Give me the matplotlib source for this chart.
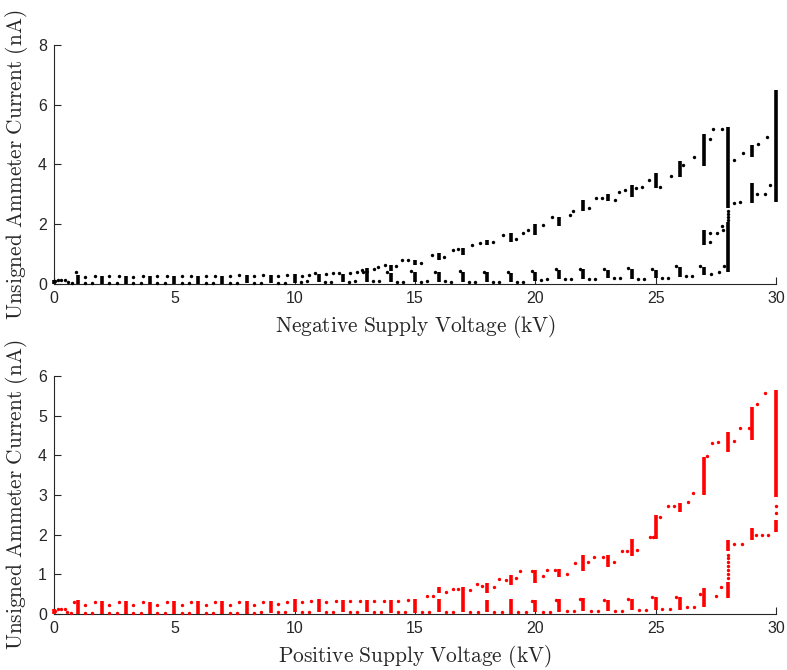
import numpy as np
from matplotlib import pyplot as plt

# ---- data ----
# dense vertical runs of samples held at one voltage: (voltage, low, high)
neg_bar_v = [0, 1, 2, 3, 4, 5, 6, 7, 8, 9, 10, 11, 12, 13, 14, 15, 16, 17, 18, 19, 20, 21, 22, 23, 24, 25, 26, 27,
             13, 14, 15, 16, 17, 18, 19, 20, 21, 22, 23, 24, 25, 26, 27, 27, 28, 28, 29, 29, 30]
neg_bar_lo = [0.0, 0.0, 0.0, 0.0, 0.0, 0.0, 0.0, 0.0, 0.02, 0.02, 0.04, 0.06, 0.06, 0.08, 0.06, 0.08, 0.08, 0.08,
              0.06, 0.06, 0.11, 0.16, 0.16, 0.19, 0.16, 0.19, 0.25, 0.30,
              0.38, 0.45, 0.63, 0.80, 0.97, 1.30, 1.42, 1.64, 1.95, 2.45, 2.79, 2.92, 3.20, 3.59, 3.95,
              1.30, 2.54, 0.41, 4.26, 2.70, 2.74]
neg_bar_hi = [0.15, 0.31, 0.28, 0.28, 0.27, 0.28, 0.27, 0.28, 0.30, 0.30, 0.33, 0.35, 0.35, 0.45, 0.38, 0.42, 0.40,
              0.42, 0.40, 0.38, 0.41, 0.47, 0.49, 0.47, 0.52, 0.47, 0.58, 0.58,
              0.55, 0.65, 0.80, 1.04, 1.22, 1.47, 1.71, 2.02, 2.25, 2.81, 3.01, 3.31, 3.72, 4.12, 5.02,
              1.80, 5.24, 2.08, 4.65, 3.37, 6.49]

# single samples taken while ramping between set points
neg_low_dots = [(0.05, 0.10), (0.15, 0.14), (0.3, 0.15), (0.45, 0.13), (0.6, 0.06), (0.75, 0.03),
                (1.3, 0.04), (1.6, 0.03), (2.3, 0.03), (2.6, 0.04), (3.3, 0.03), (3.6, 0.03), (4.3, 0.04),
                (4.6, 0.03), (5.3, 0.03), (5.6, 0.04), (6.3, 0.03), (6.6, 0.04), (7.3, 0.04), (7.6, 0.03),
                (8.3, 0.05), (8.6, 0.04), (9.3, 0.05), (9.6, 0.05),
                (10.25, 0.08), (10.5, 0.09), (10.85, 0.38), (11.25, 0.08), (11.5, 0.08), (11.85, 0.38),
                (12.25, 0.08), (12.5, 0.09), (12.85, 0.42), (13.25, 0.09), (13.5, 0.10), (13.85, 0.40),
                (14.25, 0.08), (14.5, 0.08), (14.85, 0.45), (15.25, 0.08), (15.5, 0.09), (15.85, 0.42),
                (16.25, 0.09), (16.5, 0.08), (16.85, 0.44), (17.25, 0.08), (17.5, 0.08), (17.85, 0.42),
                (18.25, 0.07), (18.5, 0.08), (18.85, 0.40), (19.25, 0.07), (19.5, 0.08), (19.85, 0.44),
                (20.25, 0.14), (20.5, 0.18), (20.85, 0.50), (21.25, 0.16), (21.5, 0.16), (21.85, 0.52),
                (22.25, 0.17), (22.5, 0.16), (22.85, 0.50), (23.25, 0.19), (23.5, 0.20), (23.85, 0.55),
                (24.25, 0.18), (24.5, 0.17), (24.85, 0.50), (25.25, 0.19), (25.5, 0.20), (25.85, 0.60),
                (26.25, 0.26), (26.5, 0.26), (26.85, 0.60), (27.3, 0.33), (27.65, 0.40), (27.85, 0.60)]
neg_high_dots = [(0.9, 0.40), (1.3, 0.25), (1.7, 0.27), (2.3, 0.26), (2.7, 0.27), (3.3, 0.25), (3.7, 0.27),
                 (4.3, 0.26), (4.7, 0.27), (5.3, 0.26), (5.7, 0.28), (6.3, 0.26), (6.7, 0.27), (7.3, 0.27),
                 (7.7, 0.29), (8.3, 0.28), (8.7, 0.29), (9.3, 0.28), (9.7, 0.30),
                 (10.3, 0.28), (10.6, 0.30), (11.3, 0.33), (11.6, 0.38), (12.3, 0.38), (12.6, 0.42),
                 (12.8, 0.47), (13.3, 0.50), (13.47, 0.58), (13.75, 0.64), (14.2, 0.62), (14.44, 0.80),
                 (14.72, 0.80), (15.26, 0.72), (15.69, 0.97), (16.2, 0.90), (16.59, 1.14), (16.8, 1.16),
                 (17.35, 1.30), (17.7, 1.36), (18.25, 1.42), (18.67, 1.64), (19.2, 1.50), (19.5, 1.70),
                 (19.7, 1.80), (20.3, 1.97), (20.68, 2.25), (21.45, 2.31), (21.57, 2.45), (22.24, 2.53),
                 (22.52, 2.87), (22.75, 2.89), (23.3, 2.80), (23.49, 3.09), (23.72, 3.16), (24.2, 3.20),
                 (24.44, 3.26), (24.73, 3.48), (25.2, 3.26), (25.62, 3.61), (26.15, 3.98), (26.59, 4.26),
                 (27.25, 4.84), (27.39, 5.20), (27.74, 5.20), (28.25, 4.15), (28.64, 4.39), (29.26, 4.68),
                 (29.63, 4.91), (28.25, 2.72), (28.5, 2.75), (29.2, 3.00), (29.54, 3.00), (29.77, 3.31),
                 (27.25, 1.70), (27.25, 1.42), (27.53, 1.70), (27.74, 1.94), (27.8, 1.81),
                 (28, 2.45), (28, 2.35), (28, 2.25), (28, 2.15)]

pos_bar_v = [0, 1, 2, 3, 4, 5, 6, 7, 8, 9, 10, 11, 12, 13, 14, 15, 16, 17, 18, 19, 20, 21, 22, 23, 24, 25, 26, 27,
             16, 17, 18, 19, 20, 21, 22, 23, 24, 25, 26, 27, 28, 28, 28, 29, 29, 30, 30]
pos_bar_lo = [0.0, 0.0, 0.0, 0.0, 0.0, 0.0, 0.0, 0.0, 0.0, 0.02, 0.06, 0.04, 0.04, 0.04, 0.03, 0.03, 0.05, 0.05,
              0.05, 0.0, 0.06, 0.05, 0.07, 0.07, 0.10, 0.10, 0.10, 0.18,
              0.52, 0.37, 0.52, 0.73, 0.77, 0.94, 1.09, 1.19, 1.46, 1.88, 2.58, 3.00,
              1.60, 0.40, 4.09, 4.40, 1.87, 2.96, 2.07]
pos_bar_hi = [0.12, 0.35, 0.32, 0.32, 0.30, 0.33, 0.32, 0.32, 0.32, 0.33, 0.38, 0.38, 0.36, 0.36, 0.36, 0.38,
              0.38, 0.38, 0.36, 0.37, 0.35, 0.38, 0.40, 0.35, 0.39, 0.44, 0.44, 0.65,
              0.69, 0.69, 0.79, 0.98, 1.11, 1.13, 1.49, 1.49, 1.88, 2.50, 2.81, 3.97,
              1.87, 0.81, 4.60, 5.23, 2.16, 5.65, 2.37]

pos_low_dots = [(0.05, 0.08), (0.15, 0.12), (0.3, 0.13), (0.45, 0.12), (0.55, 0.06), (0.7, 0.03),
                (1.3, 0.03), (1.6, 0.03), (2.3, 0.03), (2.6, 0.02), (3.3, 0.03), (3.6, 0.03), (4.3, 0.02),
                (4.6, 0.03), (5.3, 0.03), (5.6, 0.03), (6.3, 0.03), (6.6, 0.02), (7.3, 0.03), (7.6, 0.03),
                (8.3, 0.03), (8.6, 0.04), (9.3, 0.04), (9.6, 0.04), (10.3, 0.05), (10.6, 0.06),
                (11.3, 0.05), (11.6, 0.05), (12.3, 0.05), (12.6, 0.06), (13.3, 0.05), (13.6, 0.05),
                (14.3, 0.05), (14.6, 0.06), (15.3, 0.05), (15.6, 0.05), (16.3, 0.06), (16.6, 0.06),
                (17.3, 0.06), (17.6, 0.06), (18.3, 0.06), (18.6, 0.06), (19.3, 0.05), (19.6, 0.06),
                (19.85, 0.33), (20.3, 0.06), (20.6, 0.06), (20.85, 0.36), (21.3, 0.07), (21.6, 0.07),
                (21.85, 0.38), (22.3, 0.07), (22.6, 0.08), (22.85, 0.36), (23.3, 0.08), (23.6, 0.08),
                (23.85, 0.38), (24.3, 0.10), (24.6, 0.10), (24.85, 0.44), (25.25, 0.13), (25.6, 0.13),
                (25.85, 0.44), (26.3, 0.18), (26.6, 0.18), (26.85, 0.50), (27.5, 0.45), (27.7, 0.67),
                (28, 0.90), (28, 1.00), (28, 1.10), (28, 1.20), (28, 1.30), (28, 1.40), (28, 1.50),
                (28.25, 1.76), (28.6, 1.76), (29.15, 2.00), (29.4, 1.99), (29.65, 2.00),
                (30, 2.55), (30, 2.72)]
pos_high_dots = [(0.85, 0.30), (1.3, 0.22), (1.7, 0.30), (2.3, 0.22), (2.7, 0.30), (3.3, 0.22), (3.7, 0.30),
                 (4.3, 0.22), (4.7, 0.30), (5.3, 0.23), (5.7, 0.30), (6.3, 0.22), (6.7, 0.30), (7.3, 0.22),
                 (7.7, 0.30), (8.3, 0.23), (8.7, 0.30), (9.3, 0.24), (9.7, 0.31),
                 (10.3, 0.30), (10.7, 0.32), (11.3, 0.30), (11.7, 0.32), (12.3, 0.32), (12.7, 0.33),
                 (13.3, 0.33), (13.7, 0.33), (14.3, 0.34), (14.7, 0.35), (15.48, 0.45), (15.73, 0.45),
                 (16.3, 0.55), (16.59, 0.62), (16.8, 0.62), (17.3, 0.60), (17.56, 0.76), (17.8, 0.70),
                 (18.3, 0.67), (18.5, 0.87), (18.8, 0.85), (19.2, 0.90), (19.36, 1.09), (19.86, 1.09),
                 (20.3, 0.95), (20.5, 1.11), (20.8, 1.10), (21.3, 1.00), (21.65, 1.28), (22.2, 1.30),
                 (22.45, 1.43), (22.8, 1.43), (23.29, 1.30), (23.62, 1.60), (23.82, 1.60), (24.23, 1.62),
                 (24.76, 1.93), (24.9, 1.93), (25.2, 2.44), (25.5, 2.72), (25.78, 2.72), (26.33, 2.83),
                 (26.54, 3.04), (27.14, 3.98), (27.33, 4.32), (27.58, 4.33), (28.25, 4.36), (28.52, 4.68),
                 (28.86, 4.68), (29.22, 5.29), (29.54, 5.58)]

x_ticks = [0, 5, 10, 15, 20, 25, 30]
neg_y_ticks = [0, 2, 4, 6, 8]
pos_y_ticks = [0, 1, 2, 3, 4, 5, 6]

plt.rcParams['mathtext.fontset'] = 'cm'
plt.rcParams['font.family'] = ['Liberation Sans', 'DejaVu Sans']
grey = '#262626'

fig = plt.figure(figsize=(7.87, 6.70), dpi=100)
ax1 = fig.add_axes([0.0686, 0.576, 0.9174, 0.357])
ax2 = fig.add_axes([0.0686, 0.0836, 0.9174, 0.355])


def draw(ax, bv, blo, bhi, dots_a, dots_b, col, yt, xlab):
    ax.vlines(bv, blo, bhi, colors=col, linewidth=2.6, clip_on=False, zorder=3)
    for d in (dots_a, dots_b):
        a = np.array(d).T
        ax.scatter(a[0], a[1], s=6, c=col, linewidths=0, clip_on=False, zorder=3)
    ax.set_xlim(0, 30)
    ax.set_ylim(yt[0], yt[-1])
    ax.set_xticks(x_ticks)
    ax.set_yticks(yt)
    for s in ('top', 'right'):
        ax.spines[s].set_visible(False)
    for s in ('left', 'bottom'):
        ax.spines[s].set_color(grey)
        ax.spines[s].set_linewidth(0.8)
    ax.tick_params(direction='in', length=5, width=0.8, colors=grey, labelsize=11.5, pad=5)
    ax.set_xlabel(xlab, fontsize=15.4, color=grey)
    ax.set_ylabel(r'$\mathrm{Unsigned\ Ammeter\ Current\ (nA)}$', fontsize=15.4, color=grey)
    ax.xaxis.set_label_coords(0.5, -0.12)
    ax.yaxis.set_label_coords(-0.033, 0.5)


draw(ax1, neg_bar_v, neg_bar_lo, neg_bar_hi, neg_low_dots, neg_high_dots, 'black', neg_y_ticks,
     r'$\mathrm{Negative\ Supply\ Voltage\ (kV)}$')
draw(ax2, pos_bar_v, pos_bar_lo, pos_bar_hi, pos_low_dots, pos_high_dots, 'red', pos_y_ticks,
     r'$\mathrm{Positive\ Supply\ Voltage\ (kV)}$')

fig.savefig('out.png', dpi=100)
